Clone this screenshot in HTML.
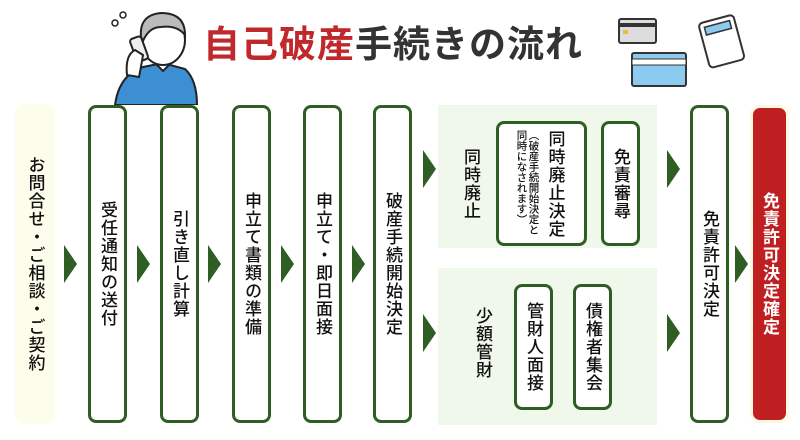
<!DOCTYPE html>
<html><head><meta charset="utf-8"><style>
*{margin:0;padding:0;box-sizing:border-box}
body{width:800px;height:440px;background:#fff;position:relative;overflow:hidden;font-family:"Liberation Sans","Noto Sans CJK JP",sans-serif}
.a{position:absolute}
.box{position:absolute;border:3px solid #2f5e25;border-radius:8px;background:#fff;display:flex;align-items:center;justify-content:center}
.v{writing-mode:vertical-rl;font-size:17px;color:#111;letter-spacing:1px;font-weight:500}
.ar{position:absolute;width:0;height:0;border-top:19px solid transparent;border-bottom:19px solid transparent;border-left:13px solid #2f5e25}
.pan{position:absolute;background:#eff8ea}
</style></head><body>
<!-- title -->
<div class="a" style="left:203px;top:20px;font-size:37px;line-height:50px;font-weight:bold;letter-spacing:1px;white-space:nowrap"><span style="color:#c0282b">自己破産</span><span style="color:#333">手続きの流れ</span></div>
<!-- person -->
<svg class="a" style="left:105px;top:5px" width="95" height="100">
<path d="M10 100 Q14 70 38 62 L58 58 L80 64 Q92 75 92 100 Z" fill="#3d8fd4" stroke="#222" stroke-width="2"/>
<path d="M48 56 L58 66 L68 56" fill="#fff" stroke="#222" stroke-width="2"/>
<ellipse cx="58" cy="35" rx="22" ry="25" fill="#fff" stroke="#222" stroke-width="2"/>
<path d="M36 32 Q34 10 56 8 Q80 8 80 30 Q72 20 56 22 Q44 22 38 36 Z" fill="#bbb" stroke="#222" stroke-width="2"/>
<rect x="28" y="32" width="12" height="24" rx="3" fill="#eee" stroke="#222" stroke-width="2" transform="rotate(-20 34 44)"/>
<path d="M22 70 Q20 50 30 45 L38 50 Q36 62 34 72 Z" fill="#fff" stroke="#222" stroke-width="2"/>
<circle cx="10" cy="18" r="3" fill="#fff" stroke="#222" stroke-width="1.5"/><circle cx="18" cy="10" r="3" fill="#fff" stroke="#222" stroke-width="1.5"/>
</svg>
<!-- icons -->
<svg class="a" style="left:615px;top:10px" width="140" height="80">
<rect x="4" y="9" width="37" height="24" rx="2" fill="#ddd" stroke="#333" stroke-width="2"/><rect x="4" y="13" width="37" height="4" fill="#333"/><rect x="8" y="20" width="5" height="4" fill="#e0c040"/>
<rect x="17" y="43" width="54" height="33" rx="2" fill="#8ccaf0" stroke="#333" stroke-width="2"/><rect x="17" y="49" width="54" height="6" fill="#fff" stroke="#333" stroke-width="1"/>
<g transform="rotate(-15 100 30)"><rect x="88" y="10" width="36" height="46" rx="4" fill="#fff" stroke="#333" stroke-width="2"/><rect x="93" y="15" width="26" height="8" fill="#8ccaf0" stroke="#333" stroke-width="1.5"/></g>
</svg>
<!-- box1 -->
<div class="a" style="left:15px;top:104px;width:40px;height:320px;background:#fdfdec;border-radius:10px;display:flex;align-items:center;justify-content:center"><span class="v">お問合せ・ご相談・ご契約</span></div>
<div class="ar" style="left:64px;top:245px"></div>
<div class="box" style="left:88px;top:105px;width:39px;height:318px"><span class="v">受任通知の送付</span></div>
<div class="ar" style="left:137px;top:245px"></div>
<div class="box" style="left:160px;top:105px;width:39px;height:318px"><span class="v">引き直し計算</span></div>
<div class="ar" style="left:208px;top:245px"></div>
<div class="box" style="left:232px;top:105px;width:39px;height:318px"><span class="v">申立て書類の準備</span></div>
<div class="ar" style="left:281px;top:245px"></div>
<div class="box" style="left:303px;top:105px;width:39px;height:318px"><span class="v">申立て・即日面接</span></div>
<div class="ar" style="left:352px;top:245px"></div>
<div class="box" style="left:373px;top:105px;width:39px;height:318px"><span class="v">破産手続開始決定</span></div>
<!-- panels -->
<div class="pan" style="left:438px;top:105px;width:219px;height:143px"></div>
<div class="pan" style="left:438px;top:268px;width:219px;height:157px"></div>
<div class="ar" style="left:423px;top:150px"></div>
<div class="ar" style="left:423px;top:314px"></div>
<div class="a v" style="left:458px;top:148px">同時廃止</div>
<div class="box" style="left:496px;top:121px;width:91px;height:125px;gap:3px;flex-direction:row-reverse;align-items:flex-start;padding-top:6px"><span class="v">同時廃止決定</span><span class="v" style="font-size:10.5px;letter-spacing:0;line-height:12px;white-space:nowrap">（破産手続開始決定と<br>同時になされます）</span></div>
<div class="box" style="left:601px;top:121px;width:39px;height:125px"><span class="v">免責審尋</span></div>
<div class="a v" style="left:470px;top:307px">少額管財</div>
<div class="box" style="left:514px;top:284px;width:39px;height:126px"><span class="v">管財人面接</span></div>
<div class="box" style="left:573px;top:284px;width:39px;height:126px"><span class="v">債権者集会</span></div>
<div class="ar" style="left:667px;top:150px"></div>
<div class="ar" style="left:667px;top:314px"></div>
<div class="box" style="left:690px;top:105px;width:39px;height:318px"><span class="v">免責許可決定</span></div>
<div class="ar" style="left:735px;top:245px"></div>
<div class="a" style="left:750px;top:105px;width:39px;height:318px;background:#c01f22;border:3px solid #fdf8e0;border-radius:10px;display:flex;align-items:center;justify-content:center"><span class="v" style="color:#fff;font-weight:bold">免責許可決定確定</span></div>
</body></html>
